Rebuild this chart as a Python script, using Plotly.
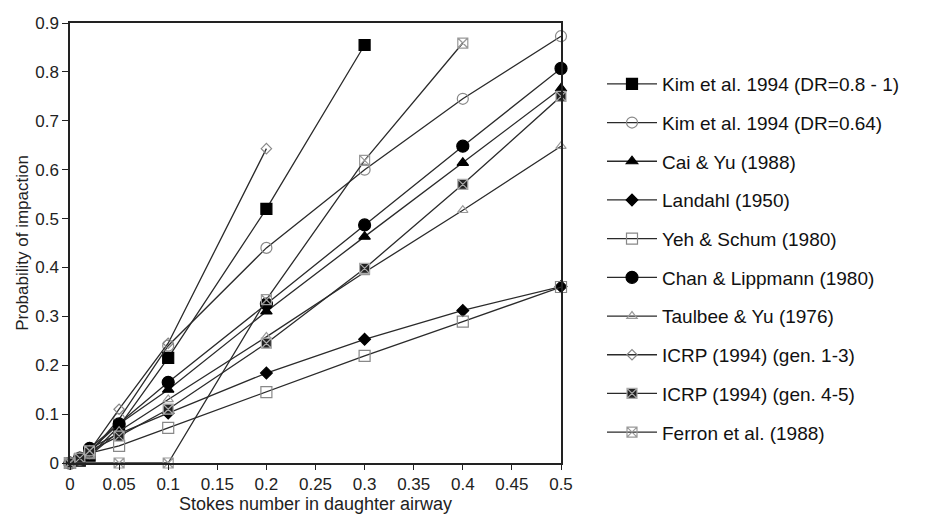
import plotly.graph_objects as go

# ---- data ----
x_full = [0, 0.01, 0.02, 0.05, 0.1, 0.2, 0.3, 0.4, 0.5]

kim_high_x = [0, 0.01, 0.02, 0.05, 0.1, 0.2, 0.3]
kim_high_y = [0, 0.005, 0.015, 0.075, 0.215, 0.52, 0.855]

kim_064_y = [0, 0.007, 0.02, 0.09, 0.24, 0.44, 0.60, 0.745, 0.873]
cai_yu_y = [0, 0.008, 0.025, 0.08, 0.15, 0.31, 0.463, 0.614, 0.766]
landahl_y = [0, 0.01, 0.03, 0.06, 0.102, 0.184, 0.253, 0.312, 0.361]
yeh_y = [0, 0.008, 0.02, 0.035, 0.072, 0.145, 0.219, 0.289, 0.36]
chan_y = [0, 0.01, 0.03, 0.08, 0.165, 0.325, 0.487, 0.648, 0.807]
taulbee_y = [0, 0.005, 0.015, 0.065, 0.13, 0.258, 0.39, 0.517, 0.648]

icrp13_x = [0, 0.01, 0.02, 0.05, 0.1, 0.2]
icrp13_y = [0, 0.01, 0.025, 0.11, 0.245, 0.643]

icrp45_y = [0, 0.01, 0.025, 0.055, 0.11, 0.245, 0.398, 0.57, 0.75]

ferron_x = [0, 0.05, 0.1, 0.2, 0.3, 0.4]
ferron_y = [0, 0, 0, 0.334, 0.619, 0.859]

x_ticks = [0, 0.05, 0.1, 0.15, 0.2, 0.25, 0.3, 0.35, 0.4, 0.45, 0.5]
x_ticktext = ["0", "0.05", "0.1", "0.15", "0.2", "0.25", "0.3", "0.35", "0.4", "0.45", "0.5"]
y_ticks = [0, 0.1, 0.2, 0.3, 0.4, 0.5, 0.6, 0.7, 0.8, 0.9]
y_ticktext = ["0", "0.1", "0.2", "0.3", "0.4", "0.5", "0.6", "0.7", "0.8", "0.9"]

series = [
    ("Kim et al. 1994 (DR=0.8 - 1)", kim_high_x, kim_high_y, "square", 11, "black", "black"),
    ("Kim et al. 1994 (DR=0.64)", x_full, kim_064_y, "circle-open", 11, "#888", "#888"),
    ("Cai & Yu (1988)", x_full, cai_yu_y, "triangle-up", 10, "black", "black"),
    ("Landahl (1950)", x_full, landahl_y, "diamond", 9, "black", "black"),
    ("Yeh & Schum (1980)", x_full, yeh_y, "square-open", 11, "#888", "#888"),
    ("Chan & Lippmann (1980)", x_full, chan_y, "circle", 12, "black", "black"),
    ("Taulbee & Yu (1976)", x_full, taulbee_y, "triangle-up-open", 9, "#999", "#999"),
    ("ICRP (1994) (gen. 1-3)", icrp13_x, icrp13_y, "diamond-open", 8, "#888", "#888"),
    ("ICRP (1994) (gen. 4-5)", x_full, icrp45_y, "square-x", 10, "#222", "#aaa"),
    ("Ferron et al. (1988)", ferron_x, ferron_y, "square-x-open", 10, "#999", "#999"),
]

fig = go.Figure()
for i, (name, xs, ys, sym, size, col, lcol) in enumerate(series):
    fig.add_trace(go.Scatter(
        x=xs, y=ys, name=name, mode="lines+markers",
        line=dict(color="#2a2a2a", width=1.3),
        marker=dict(symbol=sym, size=size, color=col,
                    line=dict(color=lcol, width=1.2)),
        cliponaxis=False,
        legendgroup="g%d" % i,
    ))

# the page body has an 8px margin, so the figure is 8px smaller and shifted
W, H = 917, 508
fig.update_layout(
    width=W, height=H,
    margin=dict(l=62, r=364, t=15, b=53, autoexpand=False),
    paper_bgcolor="white", plot_bgcolor="white",
    font=dict(family="Liberation Sans, Arial, sans-serif", color="#222", size=17),
    showlegend=True,
    legend=dict(
        xref="container", yref="container",
        x=594 / W, y=1 - 57 / H, xanchor="left", yanchor="top",
        font=dict(size=19, color="#111"),
        tracegroupgap=11,
        itemwidth=50,
        maxheight=1,
        bgcolor="rgba(0,0,0,0)",
    ),
    xaxis=dict(
        range=[0, 0.5], tickvals=x_ticks, ticktext=x_ticktext,
        showline=True, linecolor="#222", linewidth=1.5, mirror=True,
        ticks="outside", ticklen=5, tickcolor="#222",
        showgrid=False, zeroline=False, automargin=False,
        tickfont=dict(size=17),
        title=dict(text="Stokes number in daughter airway", font=dict(size=18), standoff=0),
    ),
    yaxis=dict(
        range=[0, 0.9], tickvals=y_ticks, ticktext=y_ticktext,
        showline=True, linecolor="#222", linewidth=1.5, mirror=True,
        ticks="outside", ticklen=6, tickcolor="#222",
        showgrid=False, zeroline=False, automargin=False,
        tickfont=dict(size=17),
        title=dict(text="Probability of impaction", font=dict(size=17), standoff=2),
    ),
)

fig.write_html("out.html")
